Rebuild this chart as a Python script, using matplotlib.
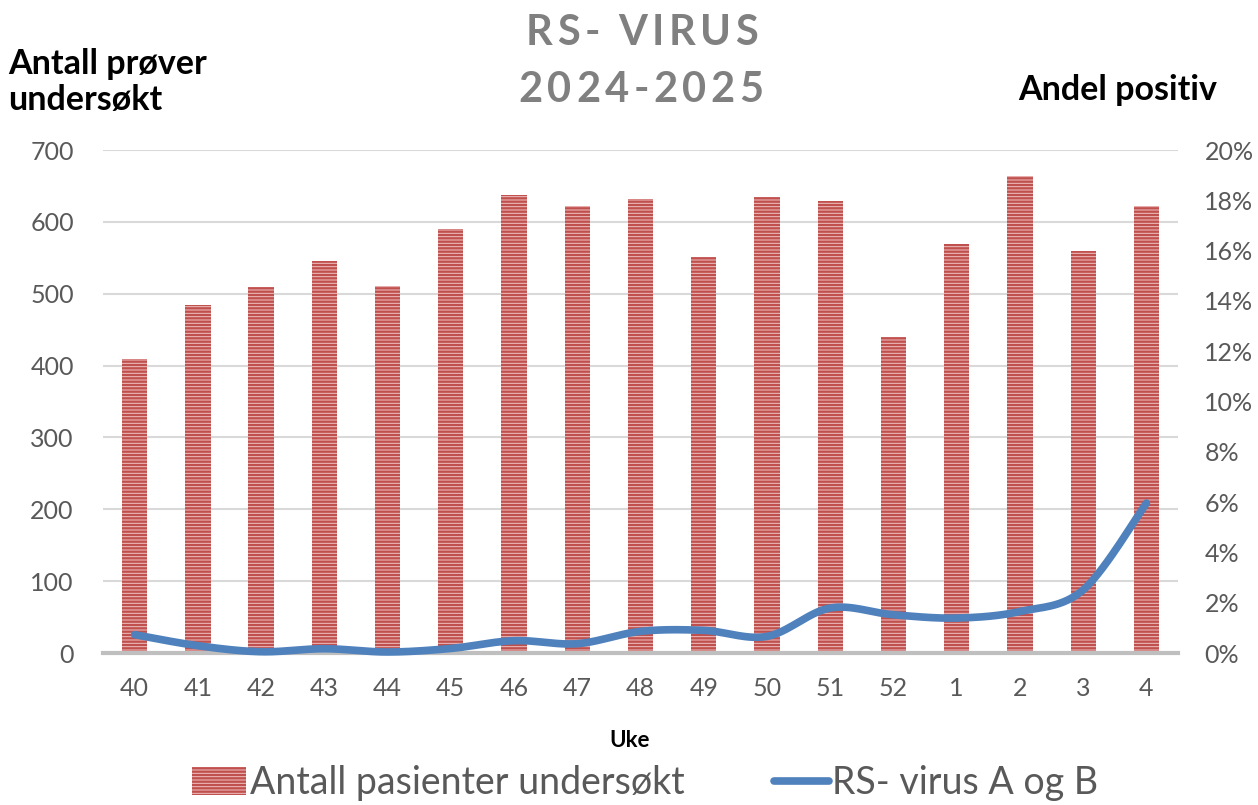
import numpy as np
import matplotlib
matplotlib.use("Agg")
import matplotlib.pyplot as plt
from matplotlib.patches import Patch
from matplotlib.lines import Line2D

weeks = ['40', '41', '42', '43', '44', '45', '46', '47', '48', '49', '50',
         '51', '52', '1', '2', '3', '4']
samples = [409, 484, 509, 545, 511, 590, 638, 622, 632, 551, 635, 629,
           440, 569, 664, 560, 622]
rsv_pct = [0.73, 0.29, 0.05, 0.17, 0.04, 0.18, 0.49, 0.37, 0.86, 0.90, 0.66,
           1.79, 1.52, 1.39, 1.65, 2.51, 5.96]
bar_label = 'Antall pasienter undersøkt'
line_label = 'RS- virus A og B'
title_lines = ['RS- VIRUS', '2024-2025']

plt.rcParams['font.family'] = ['Lato', 'DejaVu Sans']
plt.rcParams['hatch.linewidth'] = 1.7

BAR_FACE = '#f0c2c2'
BAR_HATCH = '#c0504d'
LINE_C = '#4f81bd'
TXT = '#595959'


def smooth(xs, ys, n=30):
    P = np.column_stack([xs, ys]).astype(float)
    ext = np.vstack([P[0], P, P[-1]])
    t = np.linspace(0, 1, n)[:, None]
    out = []
    for i in range(len(P) - 1):
        p0, p3 = P[i], P[i + 1]
        c1 = p0 + (ext[i + 2] - ext[i]) / 6
        c2 = p3 - (ext[i + 3] - ext[i + 1]) / 6
        seg = ((1 - t) ** 3) * p0 + 3 * ((1 - t) ** 2) * t * c1 + 3 * (1 - t) * t ** 2 * c2 + t ** 3 * p3
        out.append(seg if i == 0 else seg[1:])
    return np.vstack(out)


W, H = 1258, 805
fig = plt.figure(figsize=(W / 100, H / 100), dpi=100)
renderer = fig.canvas.get_renderer()


def spaced_text(s, xc_px, base_px, spacing_px, **kw):
    widths = []
    for ch in s:
        t = fig.text(0, 0, ch if ch != ' ' else 'i', **kw)
        widths.append(t.get_window_extent(renderer).width * (0.9 if ch == ' ' else 1.0))
        t.remove()
    total = sum(widths) + spacing_px * (len(s) - 1)
    xpos = xc_px - total / 2
    for ch, w in zip(s, widths):
        if ch != ' ':
            fig.text(xpos / W, 1 - base_px / H, ch, ha='left', va='baseline', **kw)
        xpos += w + spacing_px


ax = fig.add_axes([103 / W, 1 - 653 / H, 1075 / W, 503 / H])
x = np.arange(len(weeks))
ax.bar(x, samples, width=0.4, color=BAR_FACE, edgecolor=BAR_HATCH,
       linewidth=0, hatch='-----', zorder=2)
ax.set_xlim(-0.5, len(weeks) - 0.5)
ax.set_ylim(0, 700)
ax.set_yticks(range(0, 701, 100))
ax.set_xticks(x)
ax.set_xticklabels(weeks)
ax.grid(axis='y', color='#d9d9d9', linewidth=1.5, zorder=0)
ax.set_axisbelow(True)
for s in ['top', 'right', 'left']:
    ax.spines[s].set_visible(False)
ax.spines['bottom'].set_color('#bfbfbf')
ax.spines['bottom'].set_linewidth(3)
ax.spines['bottom'].set_zorder(3)
ax.tick_params(axis='y', length=0, labelsize=18, labelcolor=TXT, pad=21)
ax.tick_params(axis='x', length=0, labelsize=18, labelcolor=TXT, pad=17)

ax2 = ax.twinx()
ax2.set_ylim(0, 20)
ax2.set_yticks(range(0, 21, 2))
ax2.set_yticklabels([f'{v}%' for v in range(0, 21, 2)])
for s in ['top', 'right', 'left', 'bottom']:
    ax2.spines[s].set_visible(False)
ax2.tick_params(axis='y', length=0, labelsize=18, labelcolor=TXT, pad=19)
curve = smooth(x, rsv_pct)
ax2.plot(curve[:, 0], curve[:, 1], color=LINE_C, linewidth=5.5,
         solid_capstyle='round', solid_joinstyle='round', clip_on=False, zorder=5)

spaced_text(title_lines[0], 642, 45, 4.5, fontsize=30, fontweight='bold', color='#808080')
spaced_text(title_lines[1], 641, 102, 4.5, fontsize=30, fontweight='bold', color='#808080')

fig.text(8 / W, 1 - 74 / H, 'Antall prøver', ha='left', va='baseline',
         fontsize=24.5, fontweight='bold', color='black')
fig.text(8 / W, 1 - 110 / H, 'undersøkt', ha='left', va='baseline',
         fontsize=24.5, fontweight='bold', color='black')
fig.text(1217 / W, 1 - 100 / H, 'Andel positiv', ha='right', va='baseline',
         fontsize=24.5, fontweight='bold', color='black')
fig.text(630 / W, 1 - 747 / H, 'Uke', ha='center', va='baseline',
         fontsize=16, fontweight='bold', color='black')

handles = [Patch(facecolor=BAR_FACE, edgecolor=BAR_HATCH, linewidth=0, hatch='-----'),
           Line2D([0], [0], color=LINE_C, linewidth=5.5, solid_capstyle='round')]
fig.legend(handles, [bar_label, line_label], loc='center',
           bbox_to_anchor=(645 / W, 1 - 783 / H), ncol=2, frameon=False,
           fontsize=27, handlelength=1.45, handleheight=0.75, handletextpad=0.1,
           columnspacing=2.4, labelcolor=TXT)

fig.savefig('out.png', dpi=100)
